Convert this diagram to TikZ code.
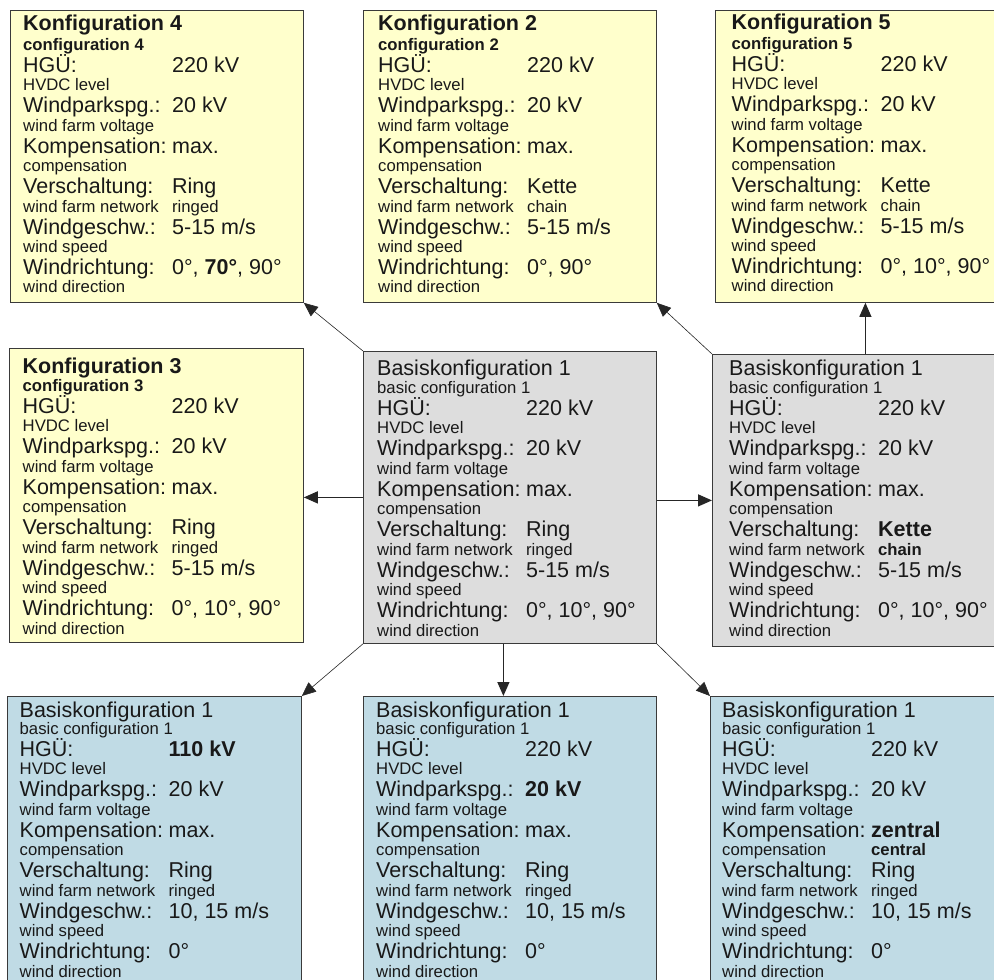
\documentclass[tikz,border=0pt]{standalone}
\usepackage{fontspec}
\setmainfont{Liberation Sans}
\usetikzlibrary{arrows.meta}

\definecolor{cfgyellow}{HTML}{FFFFCC}
\definecolor{cfggray}{HTML}{DDDDDD}
\definecolor{cfgblue}{HTML}{C0DBE5}
\definecolor{cfgline}{HTML}{3A3A3A}

\tikzstyle{cfgbox} = [draw=cfgline, line width=0.8pt, rectangle, inner sep=0pt,
    anchor=north west, minimum width=293pt, minimum height=292pt]
\tikzstyle{cfgtext} = [anchor=base west, inner sep=0pt, text=black!90]
\tikzstyle{link} = [draw=black!85, line width=0.6pt, -{Triangle[length=14pt,width=12pt]}]
\tikzstyle{mainlink} = [link, line width=1.3pt]

% one parameter: big line with value, small english line below
\newcommand{\cfgrow}[4]{%
  \fontsize{21.5pt}{22pt}\selectfont\makebox[149pt][l]{#1}#2\par
  \fontsize{16.7pt}{18.5pt}\selectfont\makebox[149pt][l]{#3}#4\par}
\newcommand{\cfgtitle}[3][20pt]{%
  \fontsize{21.5pt}{21pt}\selectfont #2\par
  \fontsize{16.7pt}{#1}\selectfont #3\par}
\newcommand{\cfgbody}[8]{%
  \cfgrow{HGÜ:}{#1}{HVDC level}{}%
  \cfgrow{Windparkspg.:}{#2}{wind farm voltage}{}%
  \cfgrow{Kompensation:}{#3}{compensation}{#4}%
  \cfgrow{Verschaltung:}{#5}{wind farm network}{#6}%
  \cfgrow{Windgeschw.:}{#7}{wind speed}{}%
  \cfgrow{Windrichtung:}{#8}{wind direction}{}}

\begin{document}
\begin{tikzpicture}[x=1pt, y=-1pt]
  \clip (0,0) rectangle (994,980);
  \fill[white] (0,0) rectangle (994,980);

  % top row
  \node[cfgbox, fill=cfgyellow] (konf4) at (10,10) {};
  \node[cfgbox, fill=cfgyellow] (konf2) at (363,10) {};
  \node[cfgbox, fill=cfgyellow, minimum width=300pt] (konf5) at (715,10) {};
  % middle row
  \node[cfgbox, fill=cfgyellow, minimum width=294pt, minimum height=294pt] (konf3) at (9,348) {};
  \node[cfgbox, fill=cfggray] (basis) at (363,351) {};
  \node[cfgbox, fill=cfggray, minimum width=306pt] (kette) at (712,354) {};
  % bottom row
  \node[cfgbox, fill=cfgblue, minimum width=294pt, minimum height=320pt] (hgue) at (7,696) {};
  \node[cfgbox, fill=cfgblue, minimum height=320pt] (spg) at (363,696) {};
  \node[cfgbox, fill=cfgblue, minimum width=300pt, minimum height=320pt] (zentral) at (710,696) {};

  \node[cfgtext] (konf4txt) at ([xshift=13pt,yshift=-20pt]konf4.north west) {%
    \begin{minipage}[t]{280pt}\lineskiplimit=-\maxdimen
      \cfgtitle{\textbf{Konfiguration 4}}{\textbf{configuration 4}}
      \cfgbody{220 kV}{20 kV}{max.}{}{Ring}{ringed}{5-15 m/s}{0°, \textbf{70°}, 90°}
    \end{minipage}};
  \node[cfgtext] (konf2txt) at ([xshift=15pt,yshift=-20pt]konf2.north west) {%
    \begin{minipage}[t]{280pt}\lineskiplimit=-\maxdimen
      \cfgtitle{\textbf{Konfiguration 2}}{\textbf{configuration 2}}
      \cfgbody{220 kV}{20 kV}{max.}{}{Kette}{chain}{5-15 m/s}{0°, 90°}
    \end{minipage}};
  \node[cfgtext] (konf5txt) at ([xshift=16.5pt,yshift=-19pt]konf5.north west) {%
    \begin{minipage}[t]{280pt}\lineskiplimit=-\maxdimen
      \cfgtitle{\textbf{Konfiguration 5}}{\textbf{configuration 5}}
      \cfgbody{220 kV}{20 kV}{max.}{}{Kette}{chain}{5-15 m/s}{0°, 10°, 90°}
    \end{minipage}};
  \node[cfgtext] (konf3txt) at ([xshift=13.5pt,yshift=-25pt]konf3.north west) {%
    \begin{minipage}[t]{280pt}\lineskiplimit=-\maxdimen
      \cfgtitle[18.4pt]{\textbf{Konfiguration 3}}{\textbf{configuration 3}}
      \cfgbody{220 kV}{20 kV}{max.}{}{Ring}{ringed}{5-15 m/s}{0°, 10°, 90°}
    \end{minipage}};
  \node[cfgtext] (basistxt) at ([xshift=14pt,yshift=-24pt]basis.north west) {%
    \begin{minipage}[t]{280pt}\lineskiplimit=-\maxdimen
      \cfgtitle[18pt]{Basiskonfiguration 1}{basic configuration 1}
      \cfgbody{220 kV}{20 kV}{max.}{}{Ring}{ringed}{5-15 m/s}{0°, 10°, 90°}
    \end{minipage}};
  \node[cfgtext] (kettetxt) at ([xshift=17pt,yshift=-21pt]kette.north west) {%
    \begin{minipage}[t]{280pt}\lineskiplimit=-\maxdimen
      \cfgtitle[18pt]{Basiskonfiguration 1}{basic configuration 1}
      \cfgbody{220 kV}{20 kV}{max.}{}{\textbf{Kette}}{\textbf{chain}}{5-15 m/s}{0°, 10°, 90°}
    \end{minipage}};
  \node[cfgtext] (hguetxt) at ([xshift=12.5pt,yshift=-21pt]hgue.north west) {%
    \begin{minipage}[t]{280pt}\lineskiplimit=-\maxdimen
      \cfgtitle[17pt]{Basiskonfiguration 1}{basic configuration 1}
      \cfgbody{\textbf{110 kV}}{20 kV}{max.}{}{Ring}{ringed}{10, 15 m/s}{0°}
    \end{minipage}};
  \node[cfgtext] (spgtxt) at ([xshift=13pt,yshift=-21pt]spg.north west) {%
    \begin{minipage}[t]{280pt}\lineskiplimit=-\maxdimen
      \cfgtitle[17pt]{Basiskonfiguration 1}{basic configuration 1}
      \cfgbody{220 kV}{\textbf{20 kV}}{max.}{}{Ring}{ringed}{10, 15 m/s}{0°}
    \end{minipage}};
  \node[cfgtext] (zentraltxt) at ([xshift=12pt,yshift=-21pt]zentral.north west) {%
    \begin{minipage}[t]{280pt}\lineskiplimit=-\maxdimen
      \cfgtitle[17pt]{Basiskonfiguration 1}{basic configuration 1}
      \cfgbody{220 kV}{20 kV}{\textbf{zentral}}{\textbf{central}}{Ring}{ringed}{10, 15 m/s}{0°}
    \end{minipage}};

  % connectors
  \draw[link] (basis.north west) -- (konf4.south east);
  \draw[link] (kette.north west) -- (konf2.south east);
  \draw[link, line width=1pt] (kette.north) -- (konf5.south);
  \draw[mainlink] (basis.west) -- (basis.west -| konf3.east);
  \draw[mainlink] (kette.west -| basis.east) -- (kette.west);
  \draw[mainlink] ([xshift=-6.5pt]basis.south) -- ([xshift=-6.5pt]basis.south |- spg.north);
  \draw[link] (basis.south west) -- (hgue.north east);
  \draw[link] (basis.south east) -- (zentral.north west);
\end{tikzpicture}
\end{document}
